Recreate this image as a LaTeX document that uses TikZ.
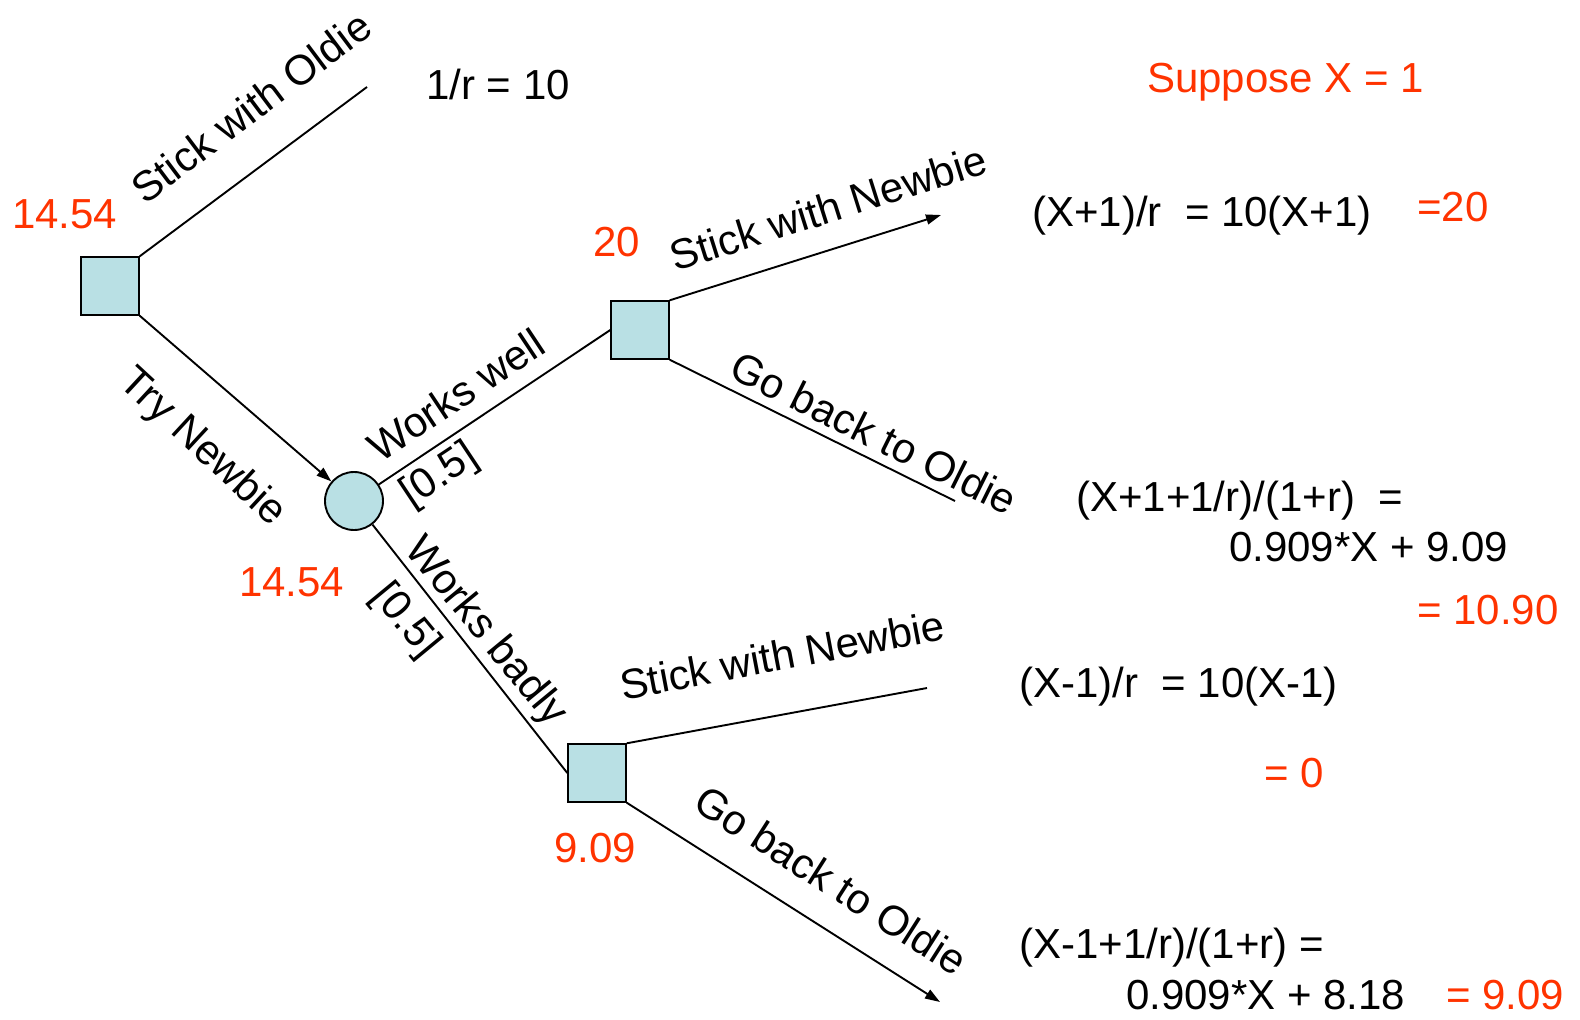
\documentclass[tikz,border=0pt]{standalone}
\usepackage{fontspec}
\setmainfont{Liberation Sans}
\usetikzlibrary{arrows.meta}
\definecolor{valred}{RGB}{255,51,0}
\definecolor{boxfill}{RGB}{185,224,228}
\begin{document}
\begin{tikzpicture}[x=1pt,y=-1pt,
  txt/.style={font=\fontsize{42}{50}\selectfont, inner sep=0pt},
  val/.style={txt, text=valred, anchor=base west},
  eq/.style={txt, anchor=base west},
  lbl/.style={txt, anchor=center},
  decbox/.style={draw, fill=boxfill, line width=1.9pt, minimum size=57.5pt, inner sep=0pt},
  chance/.style={draw, fill=boxfill, circle, line width=1.9pt, minimum size=58pt, inner sep=0pt},
  edge/.style={line width=1.9pt},
  arr/.style={edge, -{Triangle[length=15pt,width=10pt]}}
]
\useasboundingbox (0,0) rectangle (1580,1020);
% tree nodes
\node[decbox] (d1) at (110,286) {};
\node[chance] (c1) at (354,501) {};
\node[decbox] (d2) at (640,330) {};
\node[decbox] (d3) at (597,773) {};
\coordinate (e1) at (367,87);
\coordinate (e2) at (941,215);
\coordinate (e3) at (955,501);
\coordinate (e4) at (927,688);
\coordinate (e5) at (940,1002);
% connectors
\draw[edge] (d1.north east) -- (e1);
\draw[arr] (d1.south east) -- (c1);
\draw[edge] (c1) -- (d2.west);
\draw[edge] (c1) -- (d3.west);
\draw[arr] (d2.north east) -- (e2);
\draw[edge] (d2.south east) -- (e3);
\draw[edge] (d3.north east) -- (e4);
\draw[arr] (d3.south east) -- (e5);
% branch labels
\node[lbl, rotate=36.9] (l1) at (251,107) {Stick with Oldie};
\node[lbl, rotate=-42.8] (l2) at (202,448) {Try Newbie};
\node[lbl, rotate=33.6] (l3) at (456,395) {Works well};
\node[lbl, rotate=33.6] (l4) at (440,476) {[0.5]};
\node[lbl, rotate=-50.5] (l5) at (485,632) {Works badly};
\node[lbl, rotate=-50.5] (l6) at (405,621) {[0.5]};
\node[lbl, rotate=17.5] (l7) at (828,208) {Stick with Newbie};
\node[lbl, rotate=-26.4] (l8) at (874,433) {Go back to Oldie};
\node[lbl, rotate=10.7] (l9) at (782,655) {Stick with Newbie};
\node[lbl, rotate=-32.5] (l10) at (831,880) {Go back to Oldie};
% values
\node[val] (v1) at (12,228) {14.54};
\node[val] (v2) at (593,256) {20};
\node[val] (v3) at (239,596) {14.54};
\node[val] (v4) at (554,862) {9.09};
% payoffs
\node[eq] (p1) at (426,99) {1/r = 10};
\node[val] (s1) at (1147,92) {Suppose X = 1};
\node[eq] (p2) at (1032,226) {(X+1)/r\ \ = 10(X+1)};
\node[val] (r2) at (1417,221) {=20};
\node[eq] (p3) at (1076,511) {(X+1+1/r)/(1+r)\ \ =};
\node[eq] (p3b) at (1229,561) {0.909*X + 9.09};
\node[val] (r3) at (1417,624) {= 10.90};
\node[eq] (p4) at (1019,697) {(X-1)/r\ \ = 10(X-1)};
\node[val] (r4) at (1264,787) {= 0};
\node[eq] (p5) at (1019,958) {(X-1+1/r)/(1+r) =};
\node[eq] (p5b) at (1126,1009) {0.909*X + 8.18};
\node[val] (r5) at (1446,1009) {= 9.09};
\end{tikzpicture}
\end{document}
